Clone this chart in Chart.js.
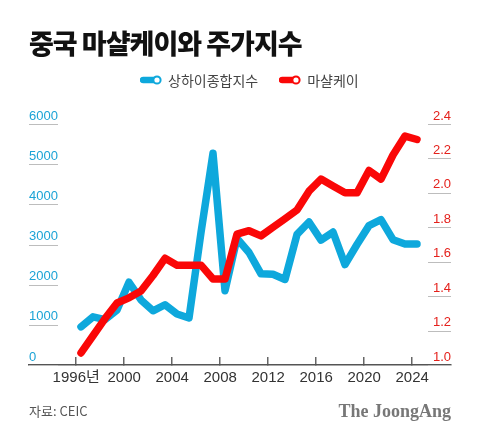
<!DOCTYPE html>
<html><head><meta charset="utf-8">
<script src="https://cdn.jsdelivr.net/npm/chart.js@4"></script>
<style>
html,body{margin:0;padding:0;background:#fff;}
#wrap{position:relative;width:480px;height:439px;overflow:hidden;background:#fff;}
#chart{position:absolute;left:0;top:0;}
#title{position:absolute;left:29px;top:26px;font-family:'Noto Sans CJK KR';font-weight:900;font-size:27px;letter-spacing:-1px;line-height:34px;color:#111;white-space:nowrap;}
#legend{position:absolute;top:71px;left:140px;font-family:'Noto Sans CJK KR';font-size:14px;color:#444;line-height:18px;white-space:nowrap;display:flex;align-items:center;}
#legend .item{display:flex;align-items:center;margin-right:21px;}
#legend svg{margin-right:6px;}
#source{position:absolute;left:29px;top:402px;font-family:'Noto Sans CJK KR';font-size:13px;color:#555;line-height:18px;}
#brand{position:absolute;right:29px;top:400px;font-family:'Liberation Serif','DejaVu Serif',serif;font-weight:bold;font-size:18px;color:#777;line-height:22px;}
</style></head>
<body>
<div id="wrap">
  <canvas id="chart" width="480" height="439"></canvas>
  <div id="title">중국 마샬케이와 주가지수</div>
  <div id="legend"></div>
  <div id="source">자료: CEIC</div>
  <div id="brand">The JoongAng</div>
</div>
<script>
// ---- data ----
const years = [1996,1997,1998,1999,2000,2001,2002,2003,2004,2005,2006,2007,2008,2009,2010,2011,2012,2013,2014,2015,2016,2017,2018,2019,2020,2021,2022,2023,2024];
const shanghaiIndex = [950,1200,1130,1370,2060,1620,1350,1500,1270,1170,3300,5270,1850,3150,2800,2270,2260,2130,3250,3560,3110,3310,2500,3000,3470,3620,3120,3010,3010];
const marshallK = [1.07,1.17,1.27,1.36,1.39,1.43,1.52,1.62,1.58,1.58,1.58,1.50,1.50,1.76,1.78,1.75,1.80,1.85,1.90,2.01,2.08,2.04,2.00,2.00,2.13,2.08,2.22,2.33,2.31];
const xTickYears = [1996,2000,2004,2008,2012,2016,2020,2024];
const leftTicks = [0,1000,2000,3000,4000,5000,6000];
const rightTicks = [1.0,1.2,1.4,1.6,1.8,2.0,2.2,2.4];
const seriesNames = ['상하이종합지수','마샬케이'];
const BLUE = '#0ea8dc';
const RED = '#fa0707';

// ---- legend (HTML) ----
const legendEl = document.getElementById('legend');
[[seriesNames[0], BLUE],[seriesNames[1], RED]].forEach(([name,col])=>{
  const it = document.createElement('div'); it.className='item';
  it.innerHTML = '<svg width="22" height="12" viewBox="0 0 22 12"><line x1="3" y1="6" x2="16" y2="6" stroke="'+col+'" stroke-width="6.5" stroke-linecap="round"/><circle cx="17" cy="6" r="3.6" fill="#fff" stroke="'+col+'" stroke-width="2"/></svg><span>'+name+'</span>';
  legendEl.appendChild(it);
});

// ---- short tick underline plugin ----
const underlines = {
  id:'underlines',
  beforeDatasetsDraw(chart){
    const ctx = chart.ctx, a = chart.chartArea;
    ctx.save();
    ctx.strokeStyle = '#bdbdbd'; ctx.lineWidth = 1;
    const yl = chart.scales.yL, yr = chart.scales.yR;
    leftTicks.forEach(v=>{ const p = Math.round(yl.getPixelForValue(v))+0.5; ctx.beginPath(); ctx.moveTo(a.left,p); ctx.lineTo(a.left+29,p); ctx.stroke(); });
    rightTicks.forEach(v=>{ const p = Math.round(yr.getPixelForValue(v))+0.5; ctx.beginPath(); ctx.moveTo(a.right-23,p); ctx.lineTo(a.right,p); ctx.stroke(); });
    ctx.restore();
  }
};

new Chart(document.getElementById('chart'), {
  type:'line',
  data:{
    datasets:[
      {label:seriesNames[0], data:years.map((y,i)=>({x:y,y:shanghaiIndex[i]})), yAxisID:'yL', borderColor:BLUE, borderWidth:7.5, pointRadius:0, tension:0, borderCapStyle:'round', borderJoinStyle:'round', order:2},
      {label:seriesNames[1], data:years.map((y,i)=>({x:y,y:marshallK[i]})), yAxisID:'yR', borderColor:RED, borderWidth:7.5, pointRadius:0, tension:0, borderCapStyle:'round', borderJoinStyle:'round', order:1}
    ]
  },
  options:{
    responsive:false, animation:false, devicePixelRatio:1,
    layout:{padding:{left:29,right:29,top:124,bottom:40}},
    plugins:{legend:{display:false}, tooltip:{enabled:false}},
    scales:{
      x:{type:'linear', min:1991.667, max:2026.833,
        afterBuildTicks:(s)=>{ s.ticks = xTickYears.map(y=>({value:y-0.4})); },
        ticks:{autoSkip:false, maxRotation:0, padding:12, color:'#333', font:{family:"'Liberation Sans','Noto Sans CJK KR'", size:15},
          callback:(v)=>{ const y=Math.round(v); return y===1996 ? y+'년' : String(y); }},
        grid:{drawOnChartArea:false, drawTicks:true, tickLength:-8, color:'#666', lineWidth:1.5},
        border:{display:true, color:'#555', width:1.5}
      },
      yL:{position:'left', min:0, max:6000,
        afterBuildTicks:(s)=>{ s.ticks = leftTicks.map(v=>({value:v})); },
        ticks:{mirror:true, padding:0, labelOffset:-8, color:'#1ba3d6', font:{family:"'Liberation Sans'", size:13}, callback:(v)=>String(v)},
        grid:{display:false, drawTicks:false}, border:{display:false}
      },
      yR:{position:'right', min:1.0, max:2.4,
        afterBuildTicks:(s)=>{ s.ticks = rightTicks.map(v=>({value:v})); },
        ticks:{mirror:true, padding:0, labelOffset:-8, color:'#e4211c', font:{family:"'Liberation Sans'", size:13}, callback:(v)=>v.toFixed(1)},
        grid:{display:false, drawTicks:false}, border:{display:false}
      }
    }
  },
  plugins:[underlines]
});
</script>
</body></html>
